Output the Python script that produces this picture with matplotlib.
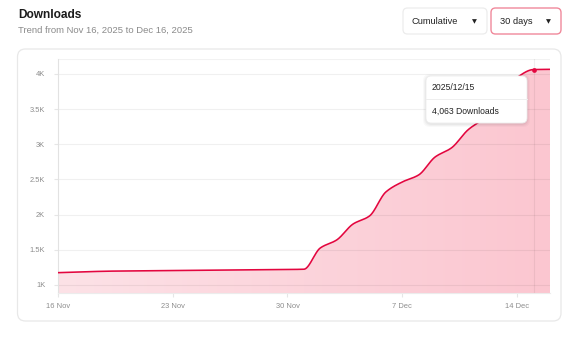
import numpy as np
import matplotlib
matplotlib.use("Agg")
import matplotlib.pyplot as plt
from matplotlib.patches import FancyBboxPatch, Polygon
from matplotlib.colors import LinearSegmentedColormap

plt.rcParams['font.family'] = ['Liberation Sans', 'DejaVu Sans']

# ---- data ----
day_offsets = list(range(31))  # Nov 16 .. Dec 16, 2025
downloads = [1175, 1183, 1190, 1196, 1199, 1201, 1203, 1205, 1207, 1209,
             1211, 1213, 1215, 1217, 1220, 1224, 1526, 1640, 1867, 1981,
             2323, 2465, 2565, 2820, 2950, 3205, 3375, 3640, 3950, 4063,
             4066]
x_tick_days = [0, 7, 14, 21, 28]
x_tick_labels = ["16 Nov", "23 Nov", "30 Nov", "7 Dec", "14 Dec"]
y_ticks = [1000, 1500, 2000, 2500, 3000, 3500, 4000]
y_tick_labels = ["1K", "1.5K", "2K", "2.5K", "3K", "3.5K", "4K"]
hover_day = 29
hover_date = "2025/12/15"
hover_value = downloads[hover_day]

W, H = 568, 341
LINE = "#e3063f"


def pchip(x, y, xs):
    """Monotone cubic (Fritsch-Carlson) evaluation."""
    x = np.asarray(x, float)
    y = np.asarray(y, float)
    h = np.diff(x)
    d = np.diff(y) / h
    m = np.zeros_like(y)
    m[0], m[-1] = d[0], d[-1]
    for i in range(1, len(y) - 1):
        if d[i - 1] * d[i] <= 0:
            m[i] = 0
        else:
            w1 = 2 * h[i] + h[i - 1]
            w2 = h[i] + 2 * h[i - 1]
            m[i] = (w1 + w2) / (w1 / d[i - 1] + w2 / d[i])
    idx = np.clip(np.searchsorted(x, xs) - 1, 0, len(x) - 2)
    t = (xs - x[idx]) / h[idx]
    h00 = 2 * t**3 - 3 * t**2 + 1
    h10 = t**3 - 2 * t**2 + t
    h01 = -2 * t**3 + 3 * t**2
    h11 = t**3 - t**2
    return (h00 * y[idx] + h10 * h[idx] * m[idx]
            + h01 * y[idx + 1] + h11 * h[idx] * m[idx + 1])


def fx(px):
    return px / W


def fy(py):
    return 1 - py / H


fig = plt.figure(figsize=(W / 100, H / 100), dpi=100)
fig.patch.set_facecolor("white")

# card
card = FancyBboxPatch((fx(17.5), fy(321)), fx(561) - fx(17.5), fy(49) - fy(321),
                      boxstyle="round,pad=0,rounding_size=0.014",
                      transform=fig.transFigure, facecolor="white",
                      edgecolor="#e8e8e8", linewidth=0.9, zorder=-5,
                      mutation_aspect=W / H)
fig.patches.append(card)

# header
fig.text(fx(18), fy(15), "Downloads", fontsize=8.6, fontweight="bold",
         color="#1c1c1c", va="center", ha="left")
fig.text(fx(18), fy(30.5), "Trend from Nov 16, 2025 to Dec 16, 2025",
         fontsize=6.8, color="#8a8a8a", va="center", ha="left")

# dropdown buttons
def button(x0, x1, label, edge, lw):
    b = FancyBboxPatch((fx(x0), fy(34)), fx(x1) - fx(x0), fy(8) - fy(34),
                       boxstyle="round,pad=0,rounding_size=0.008",
                       transform=fig.transFigure, facecolor="white",
                       edgecolor=edge, linewidth=lw, zorder=1,
                       mutation_aspect=W / H)
    fig.patches.append(b)
    fig.text(fx(x0 + 9), fy(21.5), label, fontsize=6.7, color="#222222",
             va="center", ha="left")
    fig.text(fx(x1 - 13), fy(21.5), "\u25BC", fontsize=4.6, color="#222222",
             va="center", ha="center", family=["DejaVu Sans"])

button(403, 487, "Cumulative", "#ececec", 0.9)
button(491, 561, "30 days", "#f0899b", 1.0)

# plot area
ax = fig.add_axes([fx(57.7), fy(293), fx(550) - fx(57.7), fy(59) - fy(293)])
ax.set_zorder(2)
ax.set_facecolor("none")
ax.set_xlim(0, 30)
ax.set_ylim(886, 4213)

xs = np.linspace(day_offsets[0], day_offsets[-1], 1200)
ys = pchip(day_offsets, downloads, xs)

# gradient fill under the curve
poly_pts = np.column_stack([np.r_[xs, xs[-1], xs[0]],
                            np.r_[ys, 886, 886]])
clip = Polygon(poly_pts, closed=True, transform=ax.transData,
               facecolor="none", edgecolor="none")
ax.add_patch(clip)
cmap = LinearSegmentedColormap.from_list("pinkfade", ["#fde2e7", "#fbc6d0"])
grad = np.linspace(0, 1, 256).reshape(1, -1)
img = ax.imshow(grad, cmap=cmap, extent=[0, 30, 886, 4213], aspect="auto",
                origin="lower", zorder=1, interpolation="bilinear")
img.set_clip_path(clip)

# grid
for v in y_ticks:
    ax.axhline(v, color="black", alpha=0.06, lw=0.8, zorder=2)
ax.axhline(4213, color="black", alpha=0.05, lw=0.8, zorder=2)
ax.axvline(hover_day, color="black", alpha=0.06, lw=0.8, zorder=2)

ax.plot(xs, ys, color=LINE, lw=1.15, zorder=4, solid_capstyle="round")
ax.plot([hover_day], [hover_value], "o", color=LINE, ms=3.4, zorder=5,
        markeredgewidth=0)

for s in ["top", "right"]:
    ax.spines[s].set_visible(False)
ax.spines["left"].set_color("#e2e2e2")
ax.spines["bottom"].set_color("#ececec")
ax.spines["left"].set_linewidth(0.8)
ax.spines["bottom"].set_linewidth(0.8)

ax.set_yticks(y_ticks)
ax.set_yticklabels(y_tick_labels)
ax.set_xticks(x_tick_days)
ax.set_xticklabels(x_tick_labels)
ax.tick_params(axis="y", length=3, width=0.8, color="#e6e6e6", pad=6,
               labelsize=5.4, labelcolor="#8c8c8c")
ax.tick_params(axis="x", length=3, width=0.8, color="#e6e6e6", pad=4,
               labelsize=5.4, labelcolor="#8c8c8c")

# tooltip
tx0, tx1, ty0, ty1 = 426, 527, 76, 123
for i, a in enumerate([0.025, 0.03, 0.035]):
    g = 3 - i
    sh = FancyBboxPatch((fx(tx0 - g), fy(ty1 + g + 1)),
                        fx(tx1 + g) - fx(tx0 - g), fy(ty0 - g + 1) - fy(ty1 + g + 1),
                        boxstyle="round,pad=0,rounding_size=0.012",
                        transform=fig.transFigure, facecolor="black",
                        edgecolor="none", alpha=a, zorder=8,
                        mutation_aspect=W / H)
    fig.patches.append(sh)
tip = FancyBboxPatch((fx(tx0), fy(ty1)), fx(tx1) - fx(tx0), fy(ty0) - fy(ty1),
                     boxstyle="round,pad=0,rounding_size=0.009",
                     transform=fig.transFigure, facecolor="white",
                     edgecolor="#ececec", linewidth=0.6, zorder=9,
                     mutation_aspect=W / H)
fig.patches.append(tip)
fig.lines.append(plt.Line2D([fx(tx0), fx(tx1)], [fy(98.5), fy(98.5)],
                            transform=fig.transFigure, color="#eeeeee",
                            lw=0.7, zorder=10))
fig.text(fx(432), fy(88), hover_date, fontsize=6.2, color="#222222",
         va="center", ha="left", zorder=11)
fig.text(fx(432), fy(111), f"{hover_value:,} Downloads", fontsize=6.2,
         color="#222222", va="center", ha="left", zorder=11)

fig.savefig("out.png", dpi=100)
